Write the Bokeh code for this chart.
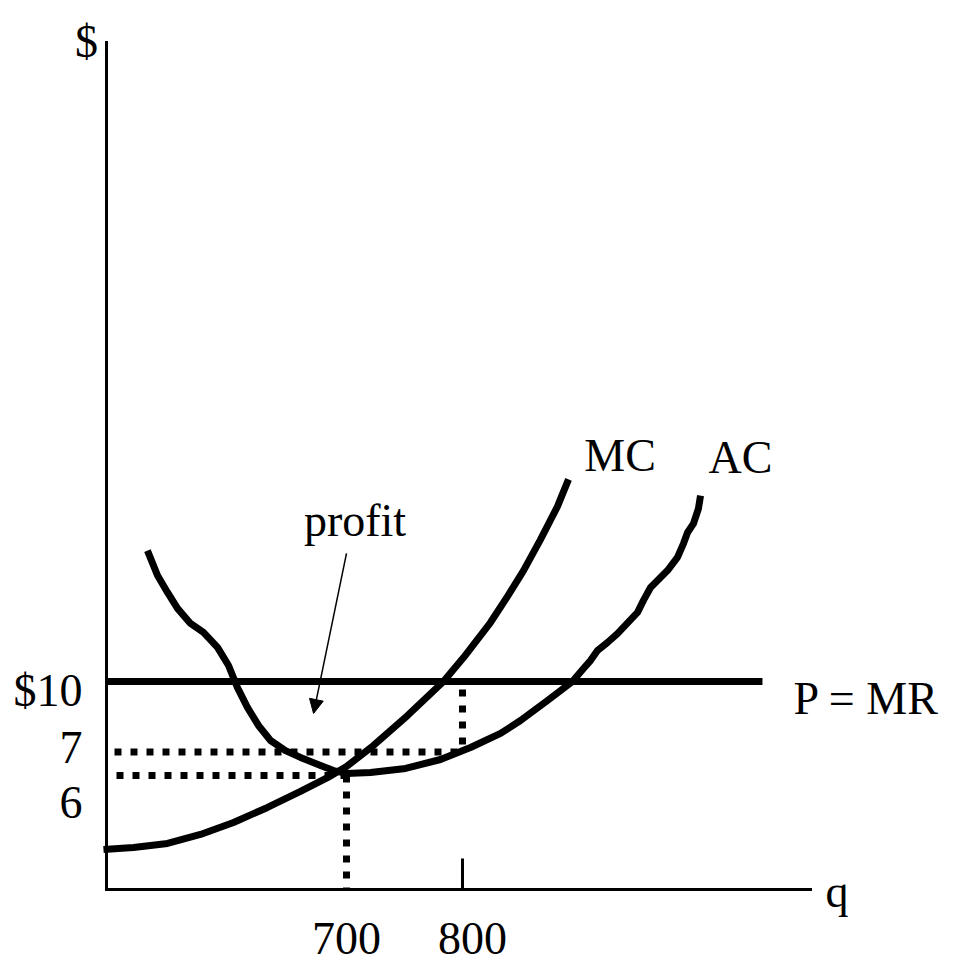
from bokeh.plotting import figure
from bokeh.models import Range1d, Label, LabelSet, Arrow, NormalHead, ColumnDataSource
from bokeh.core.properties import value
from bokeh.embed import file_html
from bokeh.resources import INLINE

# ---------------- data ----------------
# quantities / prices labelled on the axes
output_q = [700, 800]
q_labels = ["700", "800"]
price_levels = [10, 7, 6]
price_labels = ["$10", "7", "6"]

# marginal cost curve
mc_q = [490.5, 516.4, 545.7, 574.1, 602.6, 631.9, 660.3, 683.6, 700.0, 723.3,
        752.6, 783.6, 800.9, 824.1, 838.8, 852.6, 867.2, 881.9, 891.4]
mc_cost = [2.85, 2.94, 3.11, 3.49, 4.00, 4.64, 5.32, 5.91, 6.38, 7.28,
           8.55, 10.00, 11.02, 12.51, 13.62, 14.72, 16.04, 17.45, 18.60]

# average cost curve
ac_q = [528.4, 537.1, 545.7, 554.3, 565.5, 576.7, 588.8, 598.3, 606.0, 614.7,
        624.1, 634.5, 647.4, 660.3, 677.6, 688.8, 700.0, 720.7, 750.9, 781.0,
        806.9, 832.8, 850.0, 873.3, 894.8, 904.3, 910.3, 916.4, 925.0, 933.6,
        950.9, 956.0, 962.1, 976.7, 985.3, 990.5, 994.0, 999.1, 1003.4, 1005.2]
ac_cost = [15.57, 14.51, 13.79, 13.11, 12.47, 12.09, 11.45, 10.68, 9.74, 8.89,
           8.13, 7.49, 7.06, 6.77, 6.43, 6.21, 6.09, 6.13, 6.30, 6.68,
           7.19, 7.79, 8.34, 9.19, 10.00, 10.55, 10.89, 11.32, 11.66, 12.04,
           12.94, 13.45, 14.00, 14.72, 15.28, 15.87, 16.34, 16.72, 17.36, 17.91]

# price = marginal revenue line ends at this quantity
mr_q_end = 1058.6

# ---------------- layout / style ----------------
W, H = 969, 966
X0, XE = 493.1, 1100.0      # drawn quantity axis: origin and end
Y0, YT = 1.149, 37.19       # drawn price axis: origin and top
FONT = "Liberation Serif"
FS = "46px"
LW = 7
DOT = "7 9"
PX_PER_Y = 23.5

p = figure(width=W, height=H, x_range=Range1d(401.72, 1237.07), y_range=Range1d(-2.128, 38.979),
           output_backend="svg", toolbar_location=None,
           x_axis_location=None, y_axis_location=None,
           min_border=0, min_border_left=0, min_border_right=0, min_border_top=0, min_border_bottom=0,
           outline_line_color=None, background_fill_color="white", border_fill_color="white")
p.grid.visible = False

# axes drawn as lines
p.line([X0, X0], [Y0, YT], line_width=3, color="black", line_cap="square")
p.line([X0, XE], [Y0, Y0], line_width=3, color="black", line_cap="square")
# tick mark at q = 800
p.segment(x0=[output_q[1]], y0=[Y0], x1=[output_q[1]], y1=[Y0 + 31 / PX_PER_Y],
          line_width=3, color="black")

# dotted guide lines
p.line([X0, output_q[1]], [price_levels[1], price_levels[1]], line_width=7, color="black",
       line_dash=DOT, line_dash_offset=8)
p.line([output_q[1], output_q[1]], [price_levels[0], price_levels[1]], line_width=7, color="black",
       line_dash=DOT, line_dash_offset=8)
p.line([X0, output_q[0]], [price_levels[2], price_levels[2]], line_width=7, color="black",
       line_dash=DOT, line_dash_offset=6)
p.line([output_q[0], output_q[0]], [price_levels[2], Y0], line_width=7, color="black",
       line_dash=DOT)

# P = MR line
p.line([X0, mr_q_end], [price_levels[0], price_levels[0]], line_width=LW, color="black")

# cost curves
p.line(mc_q, mc_cost, line_width=LW, color="black", line_join="round")
p.line(ac_q, ac_cost, line_width=LW, color="black", line_join="round")

# tick labels
ysrc = ColumnDataSource(dict(y=price_levels, text=price_labels, dy=[-25, -11.5, -43]))
p.add_layout(LabelSet(source=ysrc, x=X0, y="y", text="text", x_offset=-24, y_offset="dy",
                      text_align="right", text_baseline="alphabetic",
                      text_font=value(FONT), text_font_size=value(FS), text_color="black"))
xsrc = ColumnDataSource(dict(x=output_q, text=q_labels, dx=[0, 10]))
p.add_layout(LabelSet(source=xsrc, x="x", y=Y0, text="text", x_offset="dx", y_offset=-65,
                      text_align="center", text_baseline="alphabetic",
                      text_font=value(FONT), text_font_size=value(FS), text_color="black"))


def lab(x, y, text, dx, dy, align="center"):
    p.add_layout(Label(x=x, y=y, text=text, x_offset=dx, y_offset=dy, text_align=align,
                       text_baseline="alphabetic", text_font=FONT, text_font_size=FS,
                       text_color="black"))


lab(X0, YT, "$", -20, 1)
lab(XE, Y0, "q", 15, -2, "left")
lab(mc_q[-1], mc_cost[-1], "MC", 51.5, 24)
lab(ac_q[-1], ac_cost[-1], "AC", 40, 38)
lab(mr_q_end, price_levels[0], "P = MR", 31, -17, "left")

# profit arrow
arrow_from = (700.0, 15.45)
arrow_to = (671.6, 8.64)
p.add_layout(Arrow(x_start=arrow_from[0], y_start=arrow_from[1], x_end=arrow_to[0], y_end=arrow_to[1],
                   line_width=1.5, line_color="black",
                   end=NormalHead(size=14, fill_color="black", line_color="black", line_width=1)))
lab(arrow_from[0], arrow_from[1], "profit", 8.5, 33)

open("out.html", "w").write(file_html(p, INLINE))
